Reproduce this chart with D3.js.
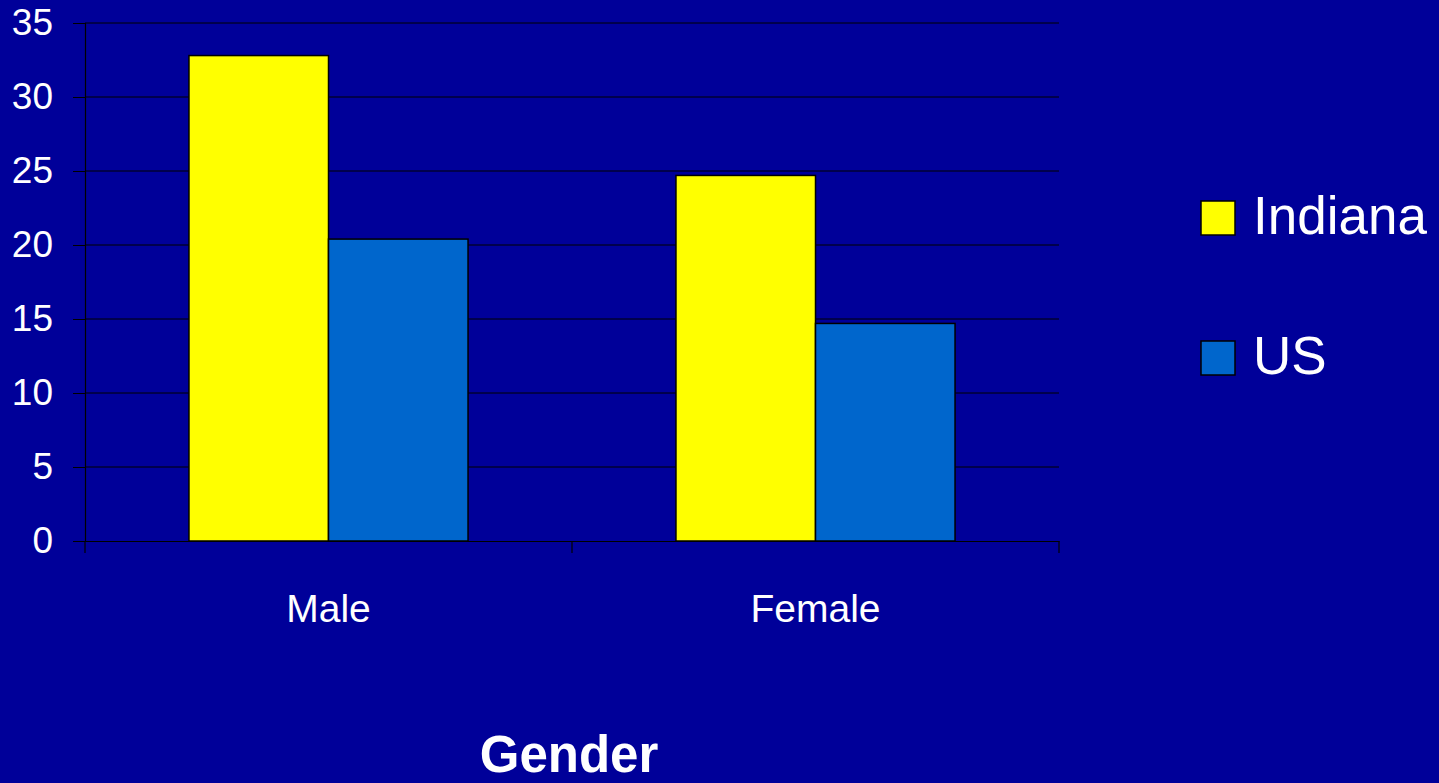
<!DOCTYPE html>
<html>
<head>
<meta charset="utf-8">
<script src="https://d3js.org/d3.v7.min.js"></script>
<style>
  html, body { margin: 0; padding: 0; background: #000099; overflow: hidden; }
  text { font-family: "Liberation Sans", Arial, sans-serif; fill: #ffffff; }
</style>
</head>
<body>
<script>
  var categories = ['Male', 'Female'];
  var series = ['Indiana', 'US'];
  var indianaValues = [32.8, 24.7];
  var usValues = [20.4, 14.7];
  var yTicks = [0, 5, 10, 15, 20, 25, 30, 35];
  var colors = ['#ffff00', '#0066cc'];

  (function () {
    var W = 1439, H = 783;
    var plotLeft = 85, plotRight = 1059, plotTop = 23, plotBottom = 541;

    var svg = d3.select('body').append('svg')
      .attr('width', W).attr('height', H);

    var y = d3.scaleLinear().domain([0, 35]).range([plotBottom, plotTop]);
    var x0 = d3.scaleBand().domain(categories).range([plotLeft, plotRight]).padding(0);
    var x1 = d3.scaleBand().domain(series).range([0, x0.bandwidth()])
      .paddingInner(0).paddingOuter(0.745);
    var color = d3.scaleOrdinal().domain(series).range(colors);

    // gridlines
    svg.append('g').selectAll('line')
      .data(yTicks.filter(function (d) { return d > 0; }))
      .enter().append('line')
      .attr('x1', plotLeft).attr('x2', plotRight)
      .attr('y1', function (d) { return y(d); })
      .attr('y2', function (d) { return y(d); })
      .attr('stroke', '#000000').attr('stroke-width', 1);

    // y axis
    var yAxis = svg.append('g')
      .attr('transform', 'translate(' + plotLeft + ',0)')
      .call(d3.axisLeft(y).tickValues(yTicks).tickSize(12).tickPadding(20));
    yAxis.select('.domain').attr('stroke', '#000000').attr('stroke-width', 1.2);
    yAxis.selectAll('.tick line').attr('stroke', '#000000');
    yAxis.selectAll('text')
      .attr('fill', '#ffffff')
      .style('font-size', '37px')
      .style('font-family', '"Liberation Sans", Arial, sans-serif');

    // bars
    var rows = [];
    categories.forEach(function (c, i) {
      rows.push({ cat: c, s: 'Indiana', v: indianaValues[i] });
      rows.push({ cat: c, s: 'US', v: usValues[i] });
    });

    svg.append('g').selectAll('rect')
      .data(rows)
      .enter().append('rect')
      .attr('x', function (d) { return x0(d.cat) + x1(d.s); })
      .attr('y', function (d) { return y(d.v); })
      .attr('width', x1.bandwidth())
      .attr('height', function (d) { return y(0) - y(d.v); })
      .attr('fill', function (d) { return color(d.s); })
      .attr('stroke', '#000000')
      .attr('stroke-width', 1.5);

    // x axis
    var xAxis = svg.append('g')
      .attr('transform', 'translate(0,' + plotBottom + ')')
      .call(d3.axisBottom(x0).tickSize(0).tickPadding(53));
    xAxis.select('.domain').attr('stroke', '#000000').attr('stroke-width', 1.2);
    xAxis.selectAll('text')
      .attr('fill', '#ffffff')
      .style('font-size', '39px')
      .style('font-family', '"Liberation Sans", Arial, sans-serif');

    // category separator ticks
    var sepTicks = [plotLeft].concat(categories.map(function (c) { return x0(c) + x0.bandwidth(); }));
    svg.append('g').selectAll('line')
      .data(sepTicks)
      .enter().append('line')
      .attr('x1', function (d) { return d; }).attr('x2', function (d) { return d; })
      .attr('y1', plotBottom).attr('y2', plotBottom + 12)
      .attr('stroke', '#000000').attr('stroke-width', 1.2);

    // axis title
    svg.append('text')
      .attr('x', (plotLeft + plotRight) / 2 - 3)
      .attr('y', 772)
      .attr('text-anchor', 'middle')
      .style('font-size', '51px')
      .style('font-weight', 'bold')
      .text('Gender');

    // legend
    var legend = svg.selectAll('.legend')
      .data(series)
      .enter().append('g')
      .attr('transform', function (d, i) { return 'translate(1201,' + (201 + i * 140) + ')'; });

    legend.append('rect')
      .attr('width', 34).attr('height', 34)
      .attr('fill', function (d) { return color(d); })
      .attr('stroke', '#000000').attr('stroke-width', 1.5);

    legend.append('text')
      .attr('x', 52).attr('y', 33)
      .style('font-size', '53px')
      .text(function (d) { return d; });
  })();
</script>
</body>
</html>
